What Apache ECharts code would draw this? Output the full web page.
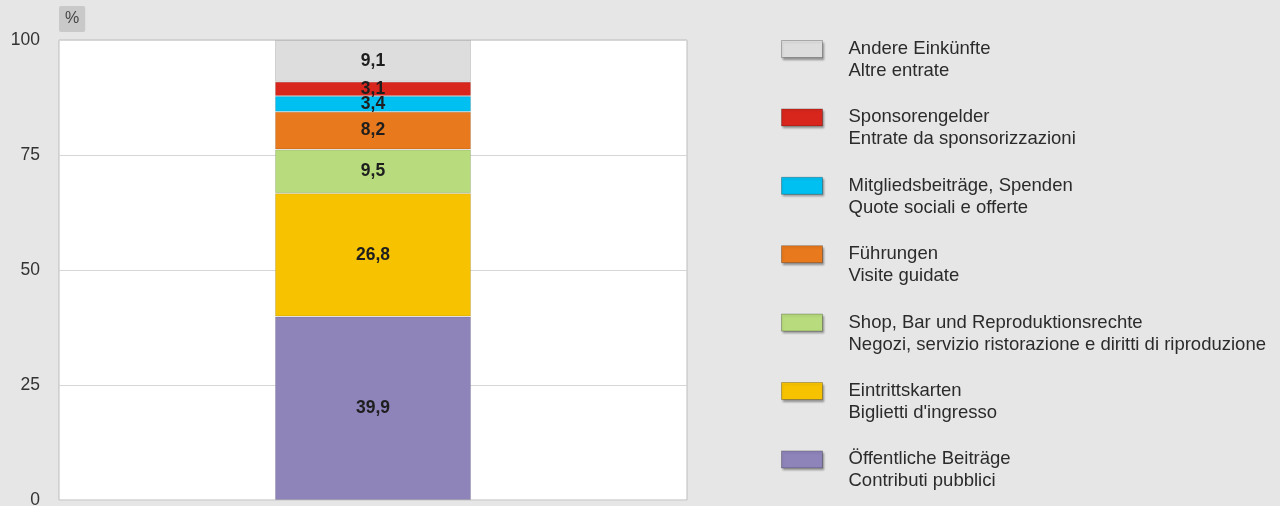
<!DOCTYPE html>
<html>
<head>
<meta charset="utf-8">
<script src="https://cdn.jsdelivr.net/npm/echarts@6/dist/echarts.min.js"></script>
<style>
    html, body { margin: 0; padding: 0; background: #e6e6e6; }
    #chart { width: 1280px; height: 506px; }
</style>
</head>
<body>
<div id="chart"></div>
<script>
// segments, bottom to top
const namesDe = ["Öffentliche Beiträge", "Eintrittskarten", "Shop, Bar und Reproduktionsrechte", "Führungen", "Mitgliedsbeiträge, Spenden", "Sponsorengelder", "Andere Einkünfte"];
const namesIt = ["Contributi pubblici", "Biglietti d'ingresso", "Negozi, servizio ristorazione e diritti di riproduzione", "Visite guidate", "Quote sociali e offerte", "Entrate da sponsorizzazioni", "Altre entrate"];
const values = [39.9, 26.8, 9.5, 8.2, 3.4, 3.1, 9.1];
const colors = ["#8e84ba", "#f7c300", "#b8dc7d", "#e8791c", "#00c0f2", "#d8261d", "#dddddd"];
const yTicks = [0, 25, 50, 75, 100];

const font = "Liberation Sans";
const chart = echarts.init(document.getElementById("chart"));

let series = values.map((v, i) => {
    return {
        name: namesDe[i],
        type: "bar",
        stack: "total",
        barWidth: 196,
        data: [v],
        itemStyle: {
            color: colors[i],
            borderColor: "rgba(0,0,0,0.12)",
            borderWidth: 1,
        },
        label: {
            show: true,
            position: "inside",
            color: "#1e1e1e",
            fontFamily: font,
            fontWeight: "bold",
            fontSize: 17.5,
            formatter: (p) => String(p.value).replace(".", ","),
        },
    };
});

let option = {
    backgroundColor: "#e6e6e6",
    animation: false,
    grid: {
        left: 59,
        right: 593,
        top: 40,
        bottom: 6,
        outerBoundsMode: "none",
        show: true,
        backgroundColor: "#fff",
        borderColor: "#bdbdbd",
        borderWidth: 1,
    },
    xAxis: {
        type: "category",
        data: [""],
        axisLine: { show: false },
        axisTick: { show: false },
        axisLabel: { show: false },
    },
    yAxis: {
        type: "value",
        min: yTicks[0],
        max: yTicks[yTicks.length - 1],
        interval: 25,
        name: "%",
        nameLocation: "end",
        nameGap: 8,
        nameTextStyle: {
            align: "left",
            color: "#444",
            fontFamily: font,
            fontSize: 16,
            backgroundColor: "#c9c9c9",
            padding: [5, 6],
            borderRadius: 2,
        },
        axisLine: { show: false },
        axisTick: { show: false },
        axisLabel: {
            margin: 19,
            color: "#333",
            fontFamily: font,
            fontSize: 17.5,
        },
        splitLine: {
            lineStyle: { color: "#d6d6d6", width: 1 },
        },
    },
    legend: {
        orient: "vertical",
        left: 781,
        top: 16,
        padding: 0,
        itemWidth: 41,
        itemHeight: 17,
        itemGap: 2.4,
        selectedMode: false,
        data: namesDe.slice().reverse(),
        icon: "rect",
        itemStyle: {
            borderColor: "rgba(0,0,0,0.25)",
            borderWidth: 1,
            shadowColor: "rgba(0,0,0,0.35)",
            shadowBlur: 2,
            shadowOffsetX: 1,
            shadowOffsetY: 2,
        },
        // empty first line keeps the German line level with the box
        formatter: (name) => "\n" + name + "\n" + namesIt[namesDe.indexOf(name)],
        textStyle: {
            color: "#2b2b2b",
            fontFamily: font,
            fontSize: 18.5,
            lineHeight: 22,
            padding: [0, 0, 0, 21],
        },
    },
    series: series,
};
chart.setOption(option);
</script>
</body>
</html>
